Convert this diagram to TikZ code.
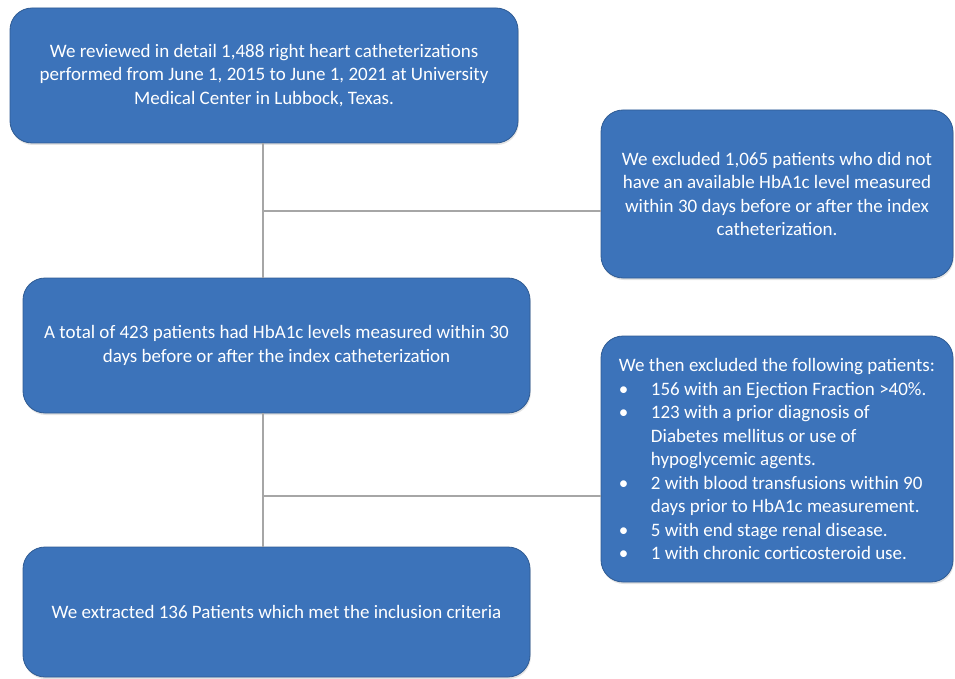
\documentclass[tikz,border=0pt]{standalone}
\usepackage{fontspec}
\setmainfont{Carlito}
\usetikzlibrary{shadows}
\definecolor{boxfill}{HTML}{3C73BA}
\definecolor{boxline}{HTML}{2F5B93}
\definecolor{connc}{HTML}{A6A6A6}
\newcommand{\bul}{\makebox[32pt][l]{\textbullet}}
\newcommand{\ind}{\hspace*{32pt}}
\begin{document}
\begin{tikzpicture}[x=1pt,y=-1pt,
  box/.style={draw=boxline, line width=0.8pt, fill=boxfill, rounded corners=22pt,
    text=white, inner sep=0pt, align=center,
    font=\fontsize{19}{23.5}\selectfont,
    drop shadow={opacity=0.22, shadow xshift=0.8pt, shadow yshift=-2pt}},
  conn/.style={draw=connc, line width=1.2pt}]
\useasboundingbox (0,0) rectangle (955,679);
\node[box, minimum width=508pt, minimum height=135pt] (b1) at (264,75.5)
  {We reviewed in detail 1,488 right heart catheterizations\\
   performed from June 1, 2015 to June 1, 2021 at University\\
   Medical Center in Lubbock, Texas.};
\node[box, minimum width=352pt, minimum height=168pt] (b2) at (777,194)
  {We excluded 1,065 patients who did not\\
   have an available HbA1c level measured\\
   within 30 days before or after the index\\
   catheterization.};
\node[box, minimum width=507pt, minimum height=135pt] (b3) at (276.5,345.5)
  {A total of 423 patients had HbA1c levels measured within 30\\
   days before or after the index catheterization};
\node[box, align=left, minimum width=352pt, minimum height=246pt] (b4) at (777,459)
  {We then excluded the following patients:\\
   \bul 156 with an Ejection Fraction >40\%.\\
   \bul 123 with a prior diagnosis of\\
   \ind Diabetes mellitus or use of\\
   \ind hypoglycemic agents.\\
   \bul 2 with blood transfusions within 90\\
   \ind days prior to HbA1c measurement.\\
   \bul 5 with end stage renal disease.\\
   \bul 1 with chronic corticosteroid use.};
\node[box, minimum width=507pt, minimum height=130pt] (b5) at (276.5,612)
  {We extracted 136 Patients which met the inclusion criteria};
\coordinate (j1) at (263,211);
\coordinate (j2) at (263,496);
\draw[conn] (j1 |- b1.south) -- (j1 |- b3.north);
\draw[conn] (j1) -- (j1 -| b2.west);
\draw[conn] (j2 |- b3.south) -- (j2 |- b5.north);
\draw[conn] (j2) -- (j2 -| b4.west);
\end{tikzpicture}
\end{document}
